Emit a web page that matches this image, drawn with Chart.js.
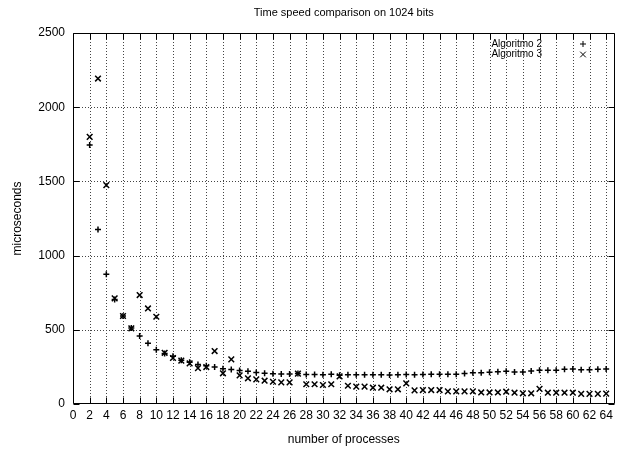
<!DOCTYPE html>
<html>
<head>
<meta charset="utf-8">
<script src="https://cdn.jsdelivr.net/npm/chart.js@4.4.1/dist/chart.umd.min.js"></script>
<style>
  html, body { margin: 0; padding: 0; background: #fff; }
  canvas { display: block; }
</style>
</head>
<body>
<canvas id="chart" width="620" height="451"></canvas>
<script>
// processes 2..64
const processes = [];
for (let p = 2; p <= 64; p++) processes.push(p);

const algo2 = [1745, 1176, 875, 705, 593, 512, 458, 410, 366, 341, 321, 295, 281, 266, 257, 249,
  237, 232, 226, 220, 212, 207, 203, 202, 202, 205, 198, 198, 197, 200, 194, 197, 197, 197, 197,
  197, 195, 197, 199, 197, 198, 200, 200, 200, 200, 206, 211, 211, 214, 218, 220, 216, 216, 222,
  227, 228, 228, 234, 236, 230, 230, 234, 236];

const algo3 = [1800, 2193, 1475, 712, 593, 510, 734, 644, 588, 345, 310, 292, 274, 242, 249, 357,
  207, 301, 193, 173, 166, 157, 150, 146, 146, 205, 133, 133, 128, 133, 186, 123, 117, 117, 110,
  110, 99, 99, 139, 92, 94, 94, 94, 85, 85, 85, 85, 78, 78, 78, 83, 76, 72, 72, 102, 76, 76, 76,
  76, 68, 68, 68, 70];

const seriesNames = ['Algoritmo 2', 'Algoritmo 3'];
const xTicks = [];
for (let v = 0; v <= 64; v += 2) xTicks.push(v);
const yTicks = [0, 500, 1000, 1500, 2000, 2500];

const FONT = '"Liberation Sans", Arial, sans-serif';
Chart.defaults.font.family = FONT;
Chart.defaults.font.size = 12;
Chart.defaults.color = '#000';

const toPoints = (vals) => vals.map((v, i) => ({ x: processes[i], y: v }));

// gnuplot look: dotted grid, frame with inward ticks on every side, key top right
const gnuplotFrame = {
  id: 'gnuplotFrame',
  beforeDatasetsDraw(chart) {
    const ctx = chart.ctx, a = chart.chartArea, sx = chart.scales.x, sy = chart.scales.y;
    ctx.save();
    ctx.strokeStyle = '#444';
    ctx.lineWidth = 1;
    ctx.setLineDash([1, 2]);
    ctx.beginPath();
    xTicks.forEach(v => {
      if (v === 0) return;
      const px = Math.round(sx.getPixelForValue(v)) + 0.5;
      ctx.moveTo(px, a.top); ctx.lineTo(px, a.bottom);
    });
    yTicks.forEach(v => {
      if (v === 0 || v === 2500) return;
      const py = Math.round(sy.getPixelForValue(v)) + 0.5;
      ctx.moveTo(a.left, py); ctx.lineTo(a.right, py);
    });
    ctx.stroke();
    ctx.restore();
  },
  afterDraw(chart) {
    const ctx = chart.ctx, a = chart.chartArea, sx = chart.scales.x, sy = chart.scales.y;
    const L = Math.round(a.left) + 0.5, T = Math.round(a.top) + 0.5;
    const R = Math.round(a.right) - 0.5, B = Math.round(a.bottom) - 0.5;
    ctx.save();
    ctx.strokeStyle = '#000';
    ctx.lineWidth = 1;
    ctx.beginPath();
    ctx.rect(L, T, R - L, B - T);
    xTicks.forEach(v => {
      const px = Math.round(sx.getPixelForValue(v)) + 0.5;
      ctx.moveTo(px, B); ctx.lineTo(px, B - 6);
      ctx.moveTo(px, T); ctx.lineTo(px, T + 6);
    });
    yTicks.forEach(v => {
      const py = Math.round(sy.getPixelForValue(v)) + 0.5;
      ctx.moveTo(L, py); ctx.lineTo(L + 6, py);
      ctx.moveTo(R, py); ctx.lineTo(R - 6, py);
    });
    ctx.stroke();
    ctx.fillStyle = '#000';
    ctx.font = '11px ' + FONT;
    ctx.textAlign = 'center';
    ctx.textBaseline = 'middle';
    ctx.fillText('Time speed comparison on 1024 bits', (a.left + a.right) / 2, 13);
    ctx.font = '10px ' + FONT;
    ctx.textAlign = 'right';
    const styles = ['cross', 'crossRot'];
    const radii = [3, 4];
    seriesNames.forEach((name, i) => {
      const y = 44 + i * 10.5;
      ctx.fillText(name, 542, y);
      Chart.helpers.drawPoint(ctx, { pointStyle: styles[i], radius: radii[i], borderWidth: 1.5 }, 583, y);
    });
    ctx.restore();
  }
};

new Chart(document.getElementById('chart'), {
  type: 'scatter',
  data: {
    datasets: [
      { label: seriesNames[0], data: toPoints(algo2), pointStyle: 'cross', pointRadius: 3,
        borderColor: '#000', backgroundColor: '#000', borderWidth: 1.5 },
      { label: seriesNames[1], data: toPoints(algo3), pointStyle: 'crossRot', pointRadius: 4,
        borderColor: '#000', backgroundColor: '#000', borderWidth: 1.5 }
    ]
  },
  options: {
    responsive: false,
    animation: false,
    layout: { padding: { top: 33, right: 5, left: 0, bottom: 0 } },
    plugins: { legend: { display: false }, title: { display: false }, tooltip: { enabled: false } },
    scales: {
      x: {
        type: 'linear', min: 0, max: 65,
        afterBuildTicks: s => { s.ticks = xTicks.map(v => ({ value: v })); },
        afterFit: s => { s.height = 47; },
        ticks: { padding: 4, maxRotation: 0, autoSkip: false },
        grid: { display: false, drawTicks: false },
        border: { display: false },
        title: { display: true, text: 'number of processes', padding: { top: 7 } }
      },
      y: {
        min: 0, max: 2500,
        afterBuildTicks: s => { s.ticks = yTicks.map(v => ({ value: v })); },
        afterFit: s => { s.width = 73; },
        ticks: { padding: 8, callback: v => String(v) },
        grid: { display: false, drawTicks: false },
        border: { display: false },
        title: { display: true, text: 'microseconds', padding: { top: 10 } }
      }
    }
  },
  plugins: [gnuplotFrame]
});
</script>
</body>
</html>
